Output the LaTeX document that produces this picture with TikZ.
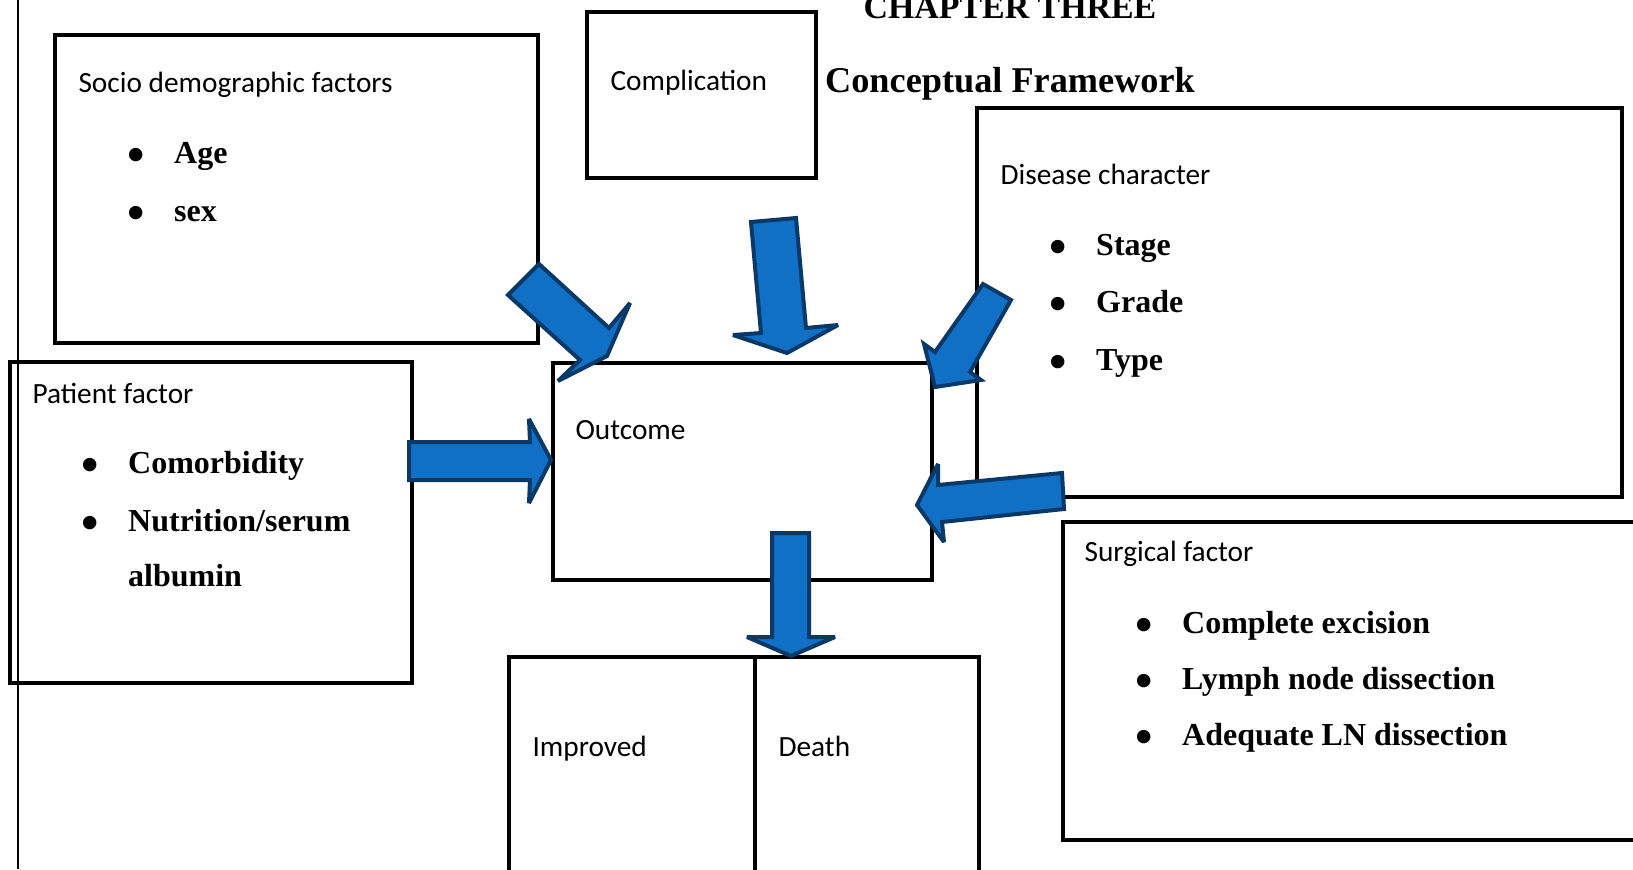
\documentclass[tikz,border=0pt]{standalone}
\usepackage{fontspec}
\setmainfont{Liberation Serif}
\newfontfamily\calibri{Carlito}
\usetikzlibrary{fit}
\definecolor{arrowblue}{RGB}{16,112,198}
\definecolor{arrowedge}{RGB}{10,57,104}
\newcommand{\bitem}[1]{\makebox[17.5pt][l]{\raisebox{-3pt}{\scalebox{1.55}{\textbullet}}}#1}
\newcommand{\nobitem}[1]{\makebox[17.5pt][l]{}#1}

\begin{document}
\begin{tikzpicture}[x=0.375pt, y=-0.375pt,
            box/.style={draw, line width=1.7pt, inner sep=0pt},
            lbl/.style={anchor=base west, inner sep=0pt, font=\calibri\fontsize{11}{13}\selectfont},
            itm/.style={anchor=base west, inner sep=0pt, font=\bfseries\fontsize{12}{14}\selectfont},
            ttl/.style={anchor=base, inner sep=0pt},
            blockarrow/.style={fill=arrowblue, draw=arrowedge, line width=1.5pt, line join=miter, miter limit=3}
        ]
        \clip (0,0) rectangle (1633,869);
        \draw[line width=0.4pt] (18,0) -- (18,869);
        % titles
        \node[ttl, font=\bfseries\fontsize{12.7}{15}\selectfont] (chap)  at (1010,18) {CHAPTER THREE};
        \node[ttl, font=\bfseries\fontsize{13.6}{16}\selectfont] (frame) at (1010,92) {Conceptual Framework};
        % boxes
        \node[box, fit={(55,35) (538,343)}]    (socio)    {};
        \node[box, fit={(587,12) (816,178)}]   (compl)    {};
        \node[box, fit={(977,108) (1622,497)}] (disease)  {};
        \node[box, fit={(10,362) (412,683)}]   (patient)  {};
        \node[box, fit={(553,363) (932,580)}]  (outcome)  {};
        \node[box, fit={(1063,522) (1660,840)}] (surgical) {};
        \node[box, fit={(509,657) (755,890)}]  (improved) {};
        \node[box, fit={(755,657) (979,890)}]  (death)    {};
        % labels
        \node[lbl] (socio-l)    at (78,92)    {Socio demographic factors};
        \node[itm] (age)        at (127,163)  {\bitem{Age}};
        \node[itm] (sex)        at (127,221)  {\bitem{sex}};
        \node[lbl] (compl-l)    at (610,90)   {Complication};
        \node[lbl] (disease-l)  at (1000,184) {Disease character};
        \node[itm] (stage)      at (1049,255) {\bitem{Stage}};
        \node[itm] (grade)      at (1049,312) {\bitem{Grade}};
        \node[itm] (type)       at (1049,370) {\bitem{Type}};
        \node[lbl] (patient-l)  at (32,403)   {Patient factor};
        \node[itm] (comorb)     at (81,473)   {\bitem{Comorbidity}};
        \node[itm] (nutr)       at (81,531)   {\bitem{Nutrition/serum}};
        \node[itm] (album)      at (81,586)   {\nobitem{albumin}};
        \node[lbl] (outcome-l)  at (575,439)  {Outcome};
        \node[lbl] (surgical-l) at (1084,561) {Surgical factor};
        \node[itm] (excis)      at (1135,633) {\bitem{Complete excision}};
        \node[itm] (lymph)      at (1135,689) {\bitem{Lymph node dissection}};
        \node[itm] (adeq)       at (1135,745) {\bitem{Adequate LN dissection}};
        \node[lbl] (improved-l) at (532,756)  {Improved};
        \node[lbl] (death-l)    at (778,756)  {Death};
        % block arrows into outcome
        \draw[blockarrow] (508,295) -- (539,264) -- (609,328) -- (630,303) -- (607,356) -- (558,381) -- (580,360) -- cycle;
        \draw[blockarrow] (751,222) -- (796,218) -- (806,328) -- (838,325) -- (787,353) -- (733,335) -- (761,333) -- cycle;
        \draw[blockarrow] (983,284) -- (1011,300) -- (970,372) -- (981,380) -- (935,387) -- (924,344) -- (935,352) -- cycle;
        \draw[blockarrow] (409,442) -- (530,442) -- (529,419) -- (551,460) -- (529,503) -- (530,480) -- (409,480) -- cycle;
        \draw[blockarrow] (1062,473) -- (938,485) -- (938,464) -- (917,505) -- (944,542) -- (942,522) -- (1064,509) -- cycle;
        % outcome to result
        \draw[blockarrow] (772,533) -- (809,533) -- (809,637) -- (835,637) -- (791,656) -- (747,637) -- (772,637) -- cycle;
    \end{tikzpicture}
\end{document}
